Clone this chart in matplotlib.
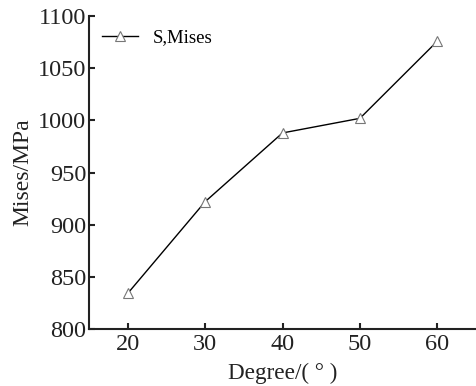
import matplotlib
matplotlib.use("Agg")
import matplotlib.pyplot as plt

# Datos
degree = [20, 30, 40, 50, 60]
mises = [834, 922, 988, 1002, 1076]
xticks = [20, 30, 40, 50, 60]
yticks = [800, 850, 900, 950, 1000, 1050, 1100]

plt.rcParams['font.family'] = ['Liberation Serif', 'DejaVu Serif']

fig = plt.figure(figsize=(4.76, 3.86), dpi=100)
ax = fig.add_axes([0.187, 0.148, 0.813, 0.81])

ax.plot(degree, mises, color='black', linewidth=1.0, marker='^', markersize=6.5,
        markerfacecolor='white', markeredgecolor='#777777', markeredgewidth=0.8,
        label='S,Mises')

ax.set_xlim(15, 65)
ax.set_ylim(800, 1100)
ax.set_xticks(xticks)
ax.set_yticks(yticks)
ax.tick_params(direction='in', length=4.5, width=1.5, labelsize=17.5, pad=2,
               colors='#222222')
ax.tick_params(axis='x', pad=4)
for s in ['top', 'right']:
    ax.spines[s].set_visible(False)
for s in ['left', 'bottom']:
    ax.spines[s].set_linewidth(1.5)
    ax.spines[s].set_color('#222222')

ax.set_xlabel('Degree/( ° )', fontsize=16.7, labelpad=5, color='#222222')
ax.set_ylabel('Mises/MPa', fontsize=17, labelpad=3, color='#222222')
ax.legend(loc='upper left', frameon=False, fontsize=13.5, handlelength=1.9,
          handletextpad=0.8, borderaxespad=0.3, bbox_to_anchor=(0.0, 1.0))

fig.savefig('out.png', dpi=100)
